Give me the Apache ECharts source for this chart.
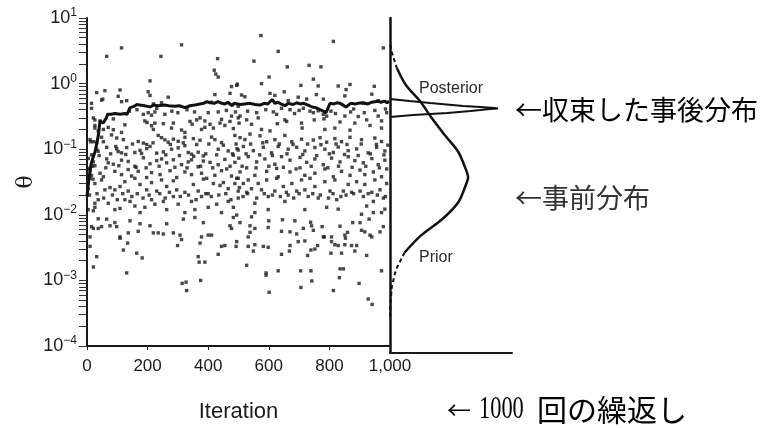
<!DOCTYPE html>
<html>
<head>
<meta charset="utf-8">
<script src="https://cdn.jsdelivr.net/npm/echarts@6/dist/echarts.min.js"></script>
<style>
  html, body { margin: 0; padding: 0; background: #fff; }
  #chart { width: 773px; height: 428px; }
</style>
</head>
<body>
<div id="chart"></div>
<script>
// x axis ticks (iterations) and y axis range (theta, log scale)
const iterationTicks = [0, 200, 400, 600, 800, 1000];
const thetaMin = 1e-4;
const thetaMax = 10;

// MCMC draws of theta: [iteration, theta]
const samples = [
  // early / upper part of the chain
  [114,3.5],[312,3.9],[65,2.6],[244,2.6],[431,2.4],[420,1.6],[425,1.4],[433,1.26],[208,1.1],[494,0.94],[477,0.9],
  [32,0.73],[59,0.78],[109,0.8],[202,0.75],[208,0.66],[103,0.64],[268,0.62],[422,0.68],[472,0.71],[15,0.5],[48,0.56],
  [114,0.53],[131,0.55],[219,0.49],[246,0.51],[411,0.52],[499,0.45],[52,0.58],[15,0.42],[21,0.3],[26,0.23],
  [186,0.34],[202,0.36],[213,0.33],[224,0.37],[257,0.34],[26,0.28],[43,0.27],[87,0.29],[191,0.27],[198,0.255],[224,0.25],
  [252,0.245],[285,0.25],[340,0.265],[347,0.24],[362,0.28],[373,0.3],[389,0.27],[433,0.37],[444,0.285],[439,0.25],
  [477,0.32],[472,0.265],[499,0.3],[26,0.21],[37,0.19],[54,0.2],[70,0.215],[87,0.198],[114,0.18],[125,0.235],[213,0.228],
  [219,0.2],[279,0.21],[312,0.196],[323,0.18],[378,0.2],[389,0.215],[406,0.24],[417,0.21],[455,0.23],[483,0.207],
  [10,0.14],[21,0.13],[48,0.152],[54,0.13],[81,0.165],[98,0.148],[120,0.14],[169,0.131],[186,0.124],[197,0.118],[208,0.11],
  [235,0.162],[246,0.15],[257,0.139],[268,0.128],[285,0.142],[301,0.132],[323,0.152],[351,0.145],[373,0.137],[411,0.153],
  [422,0.14],[444,0.126],[488,0.162],[12,0.13],[32,0.127],
  [32,0.1],[37,0.093],[65,0.107],[98,0.101],[103,0.092],[114,0.088],[131,0.106],[158,0.089],[175,0.096],[197,0.102],
  [230,0.087],[252,0.091],[279,0.1],[301,0.105],[323,0.113],[334,0.089],[345,0.084],[367,0.09],[384,0.079],[433,0.1],
  [466,0.094],[483,0.081],[499,0.097],[15,0.082],
  [4,0.072],[21,0.064],[26,0.056],[65,0.071],[70,0.062],[87,0.059],[114,0.068],[136,0.065],[158,0.055],[186,0.074],
  [208,0.06],[230,0.067],[246,0.071],[263,0.062],[285,0.069],[312,0.058],[334,0.064],[345,0.069],[367,0.054],[384,0.066],
  [406,0.063],[433,0.058],[455,0.07],[472,0.055],[488,0.063],[4,0.051],
  [10,0.048],[15,0.04],[43,0.043],[54,0.038],[92,0.046],[114,0.041],[136,0.049],[147,0.039],[169,0.046],[197,0.037],
  [213,0.044],[241,0.041],[274,0.047],[296,0.037],[323,0.045],[345,0.041],[378,0.043],[395,0.036],[422,0.04],[444,0.047],
  [477,0.039],[494,0.036],[20,0.035],
  [18,0.055],[40,0.08],[62,0.052],[78,0.085],[95,0.11],[105,0.056],[128,0.083],[150,0.12],[162,0.053],[180,0.086],
  [195,0.052],[218,0.125],[238,0.055],[260,0.082],[275,0.118],[290,0.053],[305,0.08],[318,0.125],[330,0.052],[352,0.078],
  [362,0.118],[375,0.055],[392,0.085],[402,0.12],[415,0.052],[428,0.082],[450,0.115],[461,0.05],[480,0.085],[492,0.12],
  [140,0.38],[165,0.4],[230,0.42],[280,0.38],[300,0.36],[330,0.4],[355,0.37],[400,0.36],[460,0.39],[490,0.37],
  // later iterations, upper part
  [574,5.4],[813,4.4],[978,3.5],[631,3.1],[551,2.2],[661,1.8],[733,1.9],[772,1.8],[601,1.26],[747,1.17],[496,0.98],
  [576,1.0],[706,0.94],[763,0.92],[829,0.92],[868,0.97],[948,0.91],[855,0.81],[604,0.71],[620,0.66],[651,0.75],
  [510,0.67],[521,0.63],[697,0.62],[757,0.68],[780,0.58],[851,0.65],[940,0.69],[664,0.55],[725,0.58],[912,0.5],[961,0.55],
  [642,0.42],[670,0.4],[714,0.42],[736,0.38],[747,0.36],[763,0.385],[780,0.34],[791,0.32],[750,0.28],[782,0.29],
  [505,0.32],[527,0.28],[565,0.3],[626,0.34],[653,0.28],[659,0.265],[708,0.25],[835,0.26],[851,0.32],[895,0.315],
  [923,0.28],[961,0.32],[972,0.27],[989,0.36],[502,0.25],[543,0.24],[576,0.2],[604,0.19],[628,0.245],[710,0.21],
  [785,0.2],[818,0.21],[868,0.195],[884,0.25],[934,0.23],[972,0.21],
  [530,0.38],[560,0.36],[590,0.4],[615,0.37],[685,0.35],[700,0.39],[805,0.38],[820,0.35],[870,0.37],[880,0.41],
  [915,0.36],[950,0.39],[985,0.41],
  [505,0.15],[521,0.14],[538,0.17],[571,0.16],[593,0.13],[620,0.14],[653,0.162],[676,0.13],[708,0.142],[747,0.138],
  [769,0.15],[791,0.128],[818,0.145],[840,0.13],[868,0.152],[906,0.14],[950,0.148],[972,0.131],
  [495,0.102],[516,0.11],[549,0.095],[582,0.107],[609,0.088],[631,0.11],[664,0.1],[692,0.107],[719,0.094],[752,0.106],
  [785,0.1],[813,0.089],[829,0.108],[862,0.095],[890,0.101],[928,0.088],[956,0.107],[983,0.094],
  [501,0.073],[532,0.077],[560,0.064],[587,0.071],[620,0.059],[642,0.077],[670,0.068],[703,0.075],[725,0.063],
  [752,0.071],[780,0.058],[807,0.073],[835,0.064],[862,0.077],[884,0.067],[912,0.062],[940,0.072],[961,0.058],[983,0.068],
  [505,0.045],[527,0.052],[554,0.04],[593,0.046],[626,0.051],[631,0.038],[670,0.045],[703,0.052],[719,0.04],[752,0.043],
  [785,0.05],[813,0.038],[840,0.046],[868,0.04],[901,0.048],[917,0.041],[945,0.045],[972,0.038],[989,0.05],
  [512,0.055],[525,0.085],[540,0.12],[558,0.052],[570,0.082],[580,0.125],[600,0.055],[612,0.08],[635,0.12],[648,0.053],
  [660,0.085],[680,0.118],[690,0.05],[712,0.083],[728,0.12],[740,0.055],[758,0.08],[772,0.117],[795,0.052],[800,0.085],
  [822,0.12],[830,0.055],[850,0.083],[858,0.118],[875,0.053],[895,0.08],[905,0.12],[920,0.055],[935,0.085],[955,0.118],
  [965,0.052],[980,0.082],[993,0.115],
  // early iterations, lower part
  [10,0.036],[26,0.03],[4,0.025],[48,0.034],[59,0.024],[76,0.026],[92,0.024],[109,0.027],[125,0.032],[136,0.023],
  [158,0.036],[175,0.029],[197,0.024],[213,0.031],[230,0.023],[246,0.034],[263,0.027],[285,0.033],[296,0.024],[323,0.022],
  [351,0.029],[367,0.023],[384,0.035],[400,0.021],[417,0.03],[439,0.028],[450,0.031],[466,0.025],[488,0.03],[499,0.023],
  [8,0.02],[33,0.021],[55,0.018],[84,0.02],[100,0.017],[118,0.021],[148,0.019],[166,0.021],[185,0.018],[205,0.02],
  [240,0.021],[258,0.018],[272,0.022],[308,0.019],[335,0.02],[360,0.017],[392,0.021],[410,0.019],[435,0.02],[458,0.021],
  [475,0.017],
  [37,0.017],[70,0.015],[4,0.012],[26,0.013],[92,0.012],[109,0.0125],[125,0.017],[142,0.016],[158,0.0136],[175,0.0108],
  [191,0.013],[213,0.017],[224,0.0145],[252,0.016],[263,0.012],[285,0.019],[301,0.0145],[323,0.0108],[345,0.016],
  [356,0.012],[378,0.019],[400,0.013],[428,0.0145],[444,0.0108],[466,0.016],[483,0.013],[499,0.018],[26,0.015],[21,0.0115],
  [10,0.0046],[21,0.0062],[37,0.0062],[48,0.0066],[37,0.0087],[65,0.0086],[76,0.0068],[92,0.0076],[98,0.0066],[109,0.0046],
  [136,0.0053],[169,0.0056],[142,0.0081],[175,0.0073],[208,0.0068],[219,0.0053],[235,0.0053],[252,0.0051],[263,0.0073],
  [285,0.0053],[307,0.0049],[312,0.0042],[318,0.0086],[356,0.0091],[384,0.0076],[378,0.0046],[400,0.0049],[411,0.0049],
  [472,0.0068],[477,0.0062],[483,0.0091],[15,0.0066],
  [10,0.0033],[32,0.0023],[21,0.0016],[109,0.0044],[120,0.0029],[134,0.0037],[131,0.0013],[164,0.0026],[182,0.0022],
  [299,0.0034],[314,0.0009],[327,0.00094],[329,0.0007],[373,0.0037],[367,0.0023],[370,0.0019],[389,0.0019],[375,0.001],
  [433,0.0025],[444,0.0033],[455,0.0034],[494,0.0039],[492,0.0033],
  // later iterations, lower part
  [499,0.036],[516,0.03],[532,0.034],[503,0.026],[527,0.022],[543,0.025],[565,0.03],[576,0.024],[593,0.034],[598,0.019],
  [620,0.023],[626,0.036],[648,0.027],[664,0.02],[676,0.03],[692,0.023],[708,0.034],[719,0.024],[736,0.036],[752,0.027],
  [763,0.018],[785,0.032],[802,0.023],[818,0.034],[824,0.017],[846,0.023],[862,0.029],[873,0.022],[890,0.032],[901,0.023],
  [917,0.029],[923,0.0136],[940,0.022],[950,0.034],[967,0.024],[978,0.018],[989,0.03],[653,0.016],[554,0.015],[719,0.012],
  [791,0.013],[906,0.0102],[945,0.016],[598,0.012],
  [515,0.019],[530,0.021],[560,0.018],[585,0.021],[612,0.02],[638,0.019],[658,0.022],[682,0.018],[700,0.021],[730,0.019],
  [745,0.021],[770,0.02],[797,0.018],[812,0.021],[838,0.019],[855,0.02],[880,0.021],[912,0.019],[928,0.021],[958,0.02],
  [985,0.019],
  [494,0.0099],[538,0.0068],[532,0.0046],[554,0.0062],[538,0.0054],[598,0.0064],[642,0.0056],[670,0.0055],[692,0.0051],
  [714,0.0062],[741,0.0068],[747,0.0058],[776,0.0066],[783,0.0046],[807,0.0046],[835,0.0067],[851,0.0049],[860,0.0054],
  [906,0.0058],[917,0.0055],[934,0.0049],[940,0.0046],[978,0.0066],[967,0.0055],[877,0.0076],[901,0.0076],[931,0.0086],
  [686,0.0081],[600,0.0081],[543,0.0093],[554,0.0108],[505,0.0076],[645,0.0084],[738,0.0077],[829,0.0122],[945,0.0108],
  [972,0.0108],[983,0.0122],
  [532,0.0033],[549,0.0028],[554,0.0035],[582,0.0033],[598,0.0032],[642,0.0025],[668,0.0028],[670,0.0034],[697,0.0039],
  [719,0.004],[728,0.0024],[739,0.0029],[752,0.003],[761,0.0034],[780,0.0046],[805,0.0026],[807,0.0039],[818,0.0035],
  [829,0.0034],[840,0.0026],[851,0.0035],[873,0.0034],[890,0.0034],[884,0.0028],[923,0.0024],[853,0.0044],
  [527,0.0017],[591,0.0013],[631,0.0014],[705,0.0014],[739,0.0014],[846,0.0015],[835,0.0015],[972,0.0014],
  [601,0.00066],[706,0.00078],[742,0.00098],[813,0.0007],[833,0.0011],[898,0.0009],[928,0.00052],[941,0.00043],[591,0.0012]
];

// running estimate of theta along the chain
const meanIteration = [0,3,8,14,20,26,32,38,43,48,53,59,64,68,80,92,110,125,132,138,142,155,165,175,190,200,208,220,235,241,
  255,270,290,305,323,340,355,373,385,395,406,420,432,445,455,465,479,485,505,520,538,555,571,585,597,604,612,620,630,640,
  653,665,680,692,703,715,730,743,755,769,780,789,795,802,815,825,835,845,855,861,870,885,894,910,927,940,950,960,970,983,990,997];
const meanTheta = [0.019,0.026,0.04,0.06,0.075,0.09,0.12,0.17,0.27,0.26,0.25,0.26,0.3,0.34,0.34,0.35,0.34,0.35,0.34,0.39,
  0.43,0.45,0.48,0.47,0.46,0.45,0.44,0.47,0.46,0.49,0.47,0.46,0.45,0.46,0.43,0.46,0.47,0.49,0.5,0.53,0.51,0.5,0.53,0.5,
  0.49,0.52,0.46,0.5,0.48,0.49,0.5,0.48,0.47,0.5,0.49,0.53,0.57,0.5,0.52,0.49,0.46,0.5,0.48,0.51,0.49,0.5,0.47,0.44,
  0.43,0.4,0.38,0.36,0.42,0.5,0.49,0.51,0.5,0.47,0.44,0.46,0.5,0.49,0.5,0.51,0.49,0.52,0.53,0.54,0.52,0.54,0.51,0.54];

// prior density over theta
const priorTheta   = [4.0, 3.16, 1.78, 1.0, 0.562, 0.316, 0.178, 0.1, 0.056, 0.042, 0.0316, 0.0178, 0.01, 0.0056, 0.00316, 0.00178, 0.001, 0.00056, 0.000316];
const priorDensity = [0.004, 0.012, 0.057, 0.13, 0.25, 0.345, 0.45, 0.56, 0.62, 0.64, 0.62, 0.56, 0.43, 0.25, 0.12, 0.05, 0.016, 0.004, 0.0];
// converged posterior density over theta
const postTheta   = [0.618, 0.577, 0.539, 0.503, 0.486, 0.469, 0.453, 0.446, 0.438, 0.423, 0.409, 0.382, 0.357, 0.333];
const postDensity = [0.0, 0.16, 0.33, 0.51, 0.6, 0.74, 0.86, 0.885, 0.82, 0.74, 0.66, 0.47, 0.19, 0.0];

const pairs = (xs, ys) => xs.map((x, i) => [x, ys[i]]);
const priorPts = pairs(priorDensity, priorTheta);
const priorTop = priorPts.slice(0, 3);
const priorMid = priorPts.slice(2, 15);
const priorLow = priorPts.slice(14);

const sans = "'Liberation Sans', Arial, sans-serif";
const cjk = "'Noto Sans CJK JP', 'Noto Sans CJK SC', sans-serif";
const ink = '#1a1a1a';

const chart = echarts.init(document.getElementById('chart'), null, { renderer: 'canvas' });

function label(x, y, text, font, fill, extra) {
  return Object.assign({
    type: 'text', x: x, y: y, silent: true,
    style: { text: text, font: font, fill: fill, align: 'left', verticalAlign: 'middle',
             textAlign: 'left', textVerticalAlign: 'middle' }
  }, extra || {});
}

chart.setOption({
  animation: false,
  backgroundColor: '#fff',
  grid: [
    { left: 87, top: 18, width: 303, height: 335 },
    { left: 390, top: 18, width: 122, height: 335 }
  ],
  xAxis: [
    {
      gridIndex: 0, type: 'value', min: iterationTicks[0], max: iterationTicks[iterationTicks.length - 1], interval: 200,
      axisLine: { lineStyle: { color: ink, width: 2 } },
      axisTick: { length: 4, lineStyle: { color: ink } },
      axisLabel: { margin: 12, fontFamily: sans, fontSize: 17, color: ink,
        formatter: v => v.toLocaleString('en-US') },
      splitLine: { show: false },
      name: 'Iteration', nameLocation: 'middle', nameGap: 55,
      nameTextStyle: { fontFamily: sans, fontSize: 22, color: ink }
    },
    {
      gridIndex: 1, type: 'value', min: 0, max: 1,
      axisLine: { lineStyle: { color: ink, width: 2 } },
      axisTick: { show: false }, axisLabel: { show: false }, splitLine: { show: false }
    }
  ],
  yAxis: [
    {
      gridIndex: 0, type: 'log', logBase: 10, min: thetaMin, max: thetaMax,
      axisLine: { show: true, lineStyle: { color: ink, width: 2 } },
      axisTick: { show: true, length: 8, lineStyle: { color: '#333' } },
      minorTick: { show: true, splitNumber: 9, length: 8, lineStyle: { color: '#333' } },
      splitLine: { show: false }, minorSplitLine: { show: false },
      axisLabel: {
        margin: 10,
        formatter: v => '{b|10}{s|' + String(Math.round(Math.log10(v))).replace('-', '\u2212') + '}',
        rich: {
          b: { fontFamily: sans, fontSize: 18, color: ink, lineHeight: 22 },
          s: { fontFamily: sans, fontSize: 12, color: ink, lineHeight: 12, verticalAlign: 'top' }
        }
      },
      name: 'θ', nameLocation: 'middle', nameGap: 50, nameRotate: 90,
      nameTextStyle: { fontFamily: "'DejaVu Serif', serif", fontSize: 22, color: ink }
    },
    {
      gridIndex: 1, type: 'log', logBase: 10, min: thetaMin, max: thetaMax,
      axisLine: { show: true, lineStyle: { color: '#111', width: 2.5 } },
      axisTick: { show: false }, axisLabel: { show: false }, splitLine: { show: false }
    }
  ],
  series: [
    {
      name: 'draws', type: 'scatter', xAxisIndex: 0, yAxisIndex: 0,
      symbol: 'rect', symbolSize: 3.4, itemStyle: { color: '#1c1c1c' },
      data: samples, silent: true
    },
    {
      name: 'running', type: 'line', xAxisIndex: 0, yAxisIndex: 0,
      data: pairs(meanIteration, meanTheta),
      symbol: 'none', lineStyle: { color: '#111', width: 3 }, silent: true
    },
    {
      name: 'Prior', type: 'line', xAxisIndex: 1, yAxisIndex: 1, data: priorMid,
      symbol: 'none', smooth: 0.3, lineStyle: { color: '#111', width: 2.5 }, silent: true
    },
    {
      name: 'PriorTop', type: 'line', xAxisIndex: 1, yAxisIndex: 1, data: priorTop,
      symbol: 'none', lineStyle: { color: '#111', width: 2, type: [4, 3] }, silent: true
    },
    {
      name: 'PriorLow', type: 'line', xAxisIndex: 1, yAxisIndex: 1, data: priorLow,
      symbol: 'none', lineStyle: { color: '#111', width: 2, type: [4, 3] }, silent: true
    },
    {
      name: 'Posterior', type: 'line', xAxisIndex: 1, yAxisIndex: 1,
      data: pairs(postDensity, postTheta),
      symbol: 'none', lineStyle: { color: '#111', width: 2 }, silent: true
    }
  ],
  graphic: [
    label(419, 89, 'Posterior', "16px 'Liberation Sans', Arial, sans-serif", '#2a2a2a'),
    label(419, 258, 'Prior', "16px 'Liberation Sans', Arial, sans-serif", '#2a2a2a'),
    label(515, 110, '←収束した事後分布', "27px " + cjk, '#000'),
    label(515, 198, '←事前分布', "27px " + cjk, '#333'),
    label(447, 410, '←', "24px " + cjk, '#000'),
    label(479, 410, '1000', "32px 'Liberation Serif', serif", '#000', { scaleX: 0.7 }),
    label(537, 410, '回の繰返し', "30px " + cjk, '#000')
  ]
});
</script>
</body>
</html>
